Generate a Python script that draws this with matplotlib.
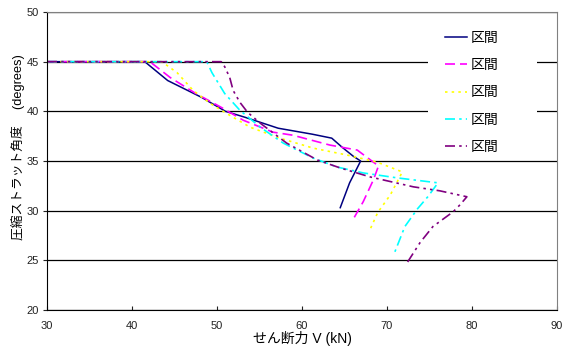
import numpy as np
import matplotlib
matplotlib.use("Agg")
import matplotlib.pyplot as plt
from matplotlib.patches import Rectangle

plt.rcParams['font.family'] = ['Liberation Sans', 'Noto Sans CJK JP', 'DejaVu Sans']

# shear force V (kN) vs. strut angle (degrees), one run per section
v1 = [30.0, 41.5, 44.2, 48.2, 51.0, 53.3, 57.2, 61.2, 63.5, 64.7, 66.0, 66.9, 65.6, 64.5]
t1 = [45.0, 45.0, 43.1, 41.4, 40.0, 39.4, 38.3, 37.7, 37.3, 36.4, 35.5, 35.0, 32.8, 30.3]

v2 = [30.0, 42.1, 44.5, 47.5, 50.5, 53.1, 56.6, 58.9, 63.3, 66.5, 69.0, 68.4, 67.2, 66.0]
t2 = [45.0, 45.0, 43.4, 41.8, 40.4, 39.1, 37.9, 37.6, 36.6, 36.1, 34.5, 33.1, 30.9, 29.1]

v3 = [30.0, 43.5, 45.3, 47.2, 49.2, 51.5, 53.9, 57.4, 61.3, 65.3, 68.8, 71.8, 70.4, 68.9, 67.9]
t3 = [45.0, 45.0, 43.9, 42.1, 40.8, 39.6, 38.4, 37.3, 36.3, 35.6, 34.9, 33.9, 31.6, 29.8, 27.9]

v4 = [30.0, 48.8, 49.4, 50.9, 52.7, 55.1, 57.8, 61.3, 64.1, 67.2, 71.2, 76.0, 74.8, 73.6, 72.1, 70.9]
t4 = [45.0, 45.0, 43.9, 41.8, 40.1, 38.4, 36.8, 35.3, 34.4, 33.8, 33.3, 32.8, 31.4, 30.2, 28.4, 25.8]

v5 = [30.0, 50.5, 50.9, 51.5, 51.9, 52.7, 53.6, 55.1, 58.2, 61.8, 64.5, 68.0, 73.1, 76.2, 79.4,
      78.6, 77.8, 75.4, 73.9, 72.4]
t5 = [45.0, 45.0, 44.5, 43.4, 42.1, 40.9, 39.9, 38.8, 36.8, 35.1, 34.3, 33.4, 32.4, 32.0, 31.4,
      30.6, 29.9, 28.4, 26.8, 24.8]

labels = ['区間', '区間', '区間', '区間', '区間']

fig = plt.figure(figsize=(5.70, 3.52), dpi=100)
ax = fig.add_axes([47/570, 1 - 310/352, 510/570, 298/352])

ax.plot(v1, t1, color='#000080', lw=1.1, ls='-', label=labels[0])
ax.plot(v2, t2, color='#FF00FF', lw=1.2, ls=(0, (6, 3)), label=labels[1])
ax.plot(v3, t3, color='#FFFF00', lw=1.2, ls=(0, (1.5, 2.5)), label=labels[2])
ax.plot(v4, t4, color='#00FFFF', lw=1.2, ls=(0, (6, 2.5, 1.5, 2.5)), label=labels[3])
ax.plot(v5, t5, color='#800080', lw=1.2, ls=(0, (6, 2.5, 1.5, 2.5, 1.5, 2.5)), label=labels[4])

ax.set_xlim(30, 90)
ax.set_ylim(20, 50)
ax.set_xticks(np.arange(30, 91, 10))
ax.set_yticks(np.arange(20, 51, 5))
ax.yaxis.grid(True, color='black', lw=0.9)
ax.set_axisbelow(True)

ax.tick_params(axis='x', direction='in', length=3, pad=8, labelsize=8, colors='#222222')
ax.tick_params(axis='y', direction='out', length=3, pad=3, labelsize=8, colors='#222222')
for s in ['left', 'bottom']:
    ax.spines[s].set_color('black')
for s in ['top', 'right']:
    ax.spines[s].set_color('#808080')

ax.set_xlabel('せん断力 V (kN)', fontsize=10, labelpad=0)
ax.set_ylabel('圧縮ストラット角度　 (degrees)', fontsize=9.2)
ax.yaxis.set_label_coords(-0.044, 0.548)

# white box behind the legend hides the grid there
ax.add_patch(Rectangle((428/570, 1 - 158/352), 109/570, 142/352, transform=fig.transFigure,
                       facecolor='white', edgecolor='none', zorder=3, clip_on=False))
leg = ax.legend(loc='upper left', bbox_to_anchor=(445/570, 1 - 31/352),
                bbox_transform=fig.transFigure, frameon=False, fontsize=10,
                borderpad=0, borderaxespad=0, handlelength=1.6, handletextpad=0.25,
                labelspacing=0.95)
leg.set_zorder(5)

fig.savefig('out.png', dpi=100)
